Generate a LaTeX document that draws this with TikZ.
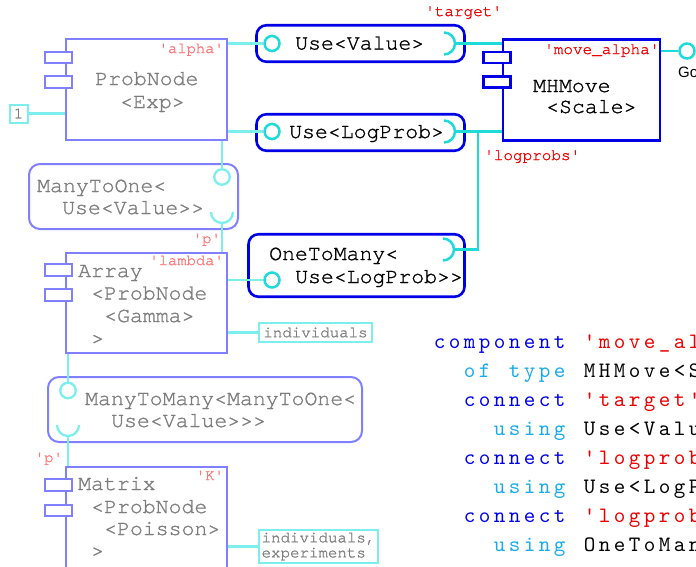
\documentclass[tikz,border=0pt]{standalone}
\usepackage{fontspec}
\newfontfamily\dfont[Ligatures=TeXOff,FakeBold=1.2]{texgyrecursor-regular.otf}
\newfontfamily\gofont{Liberation Sans}
\newfontfamily\cfont[Ligatures=TeXOff]{lmmono10-regular.otf}
\definecolor{fblue}{RGB}{128,128,255}
\definecolor{sblue}{RGB}{0,0,230}
\definecolor{scyan}{RGB}{30,218,218}
\definecolor{fcyan}{RGB}{125,238,238}
\definecolor{fgray}{RGB}{125,125,125}
\definecolor{fred}{RGB}{255,120,120}
\definecolor{sred}{RGB}{240,0,0}
\definecolor{kwblue}{RGB}{0,0,230}
\definecolor{kwlight}{RGB}{25,170,235}
\definecolor{cred}{RGB}{235,0,0}
\newcommand\fixw[1]{\fixwA#1\relax}
\def\fixwA#1{\ifx\relax#1\else\makebox[15pt][c]{#1}\expandafter\fixwA\fi}
\begin{document}
\begin{tikzpicture}[x=1pt,y=-1pt,
  fcomp/.style={draw=fblue,line width=2pt,inner sep=0},
  scomp/.style={draw=sblue,line width=2.6pt,inner sep=0},
  fround/.style={fcomp,rounded corners=11pt},
  sround/.style={scomp,rounded corners=10pt},
  ftab/.style={draw=fblue,line width=2pt,fill=white,minimum width=27pt,minimum height=11.5pt,inner sep=0},
  stab/.style={draw=sblue,line width=2.6pt,fill=white,minimum width=27pt,minimum height=11pt,inner sep=0},
  fline/.style={draw=fcyan,line width=2.3pt},
  sline/.style={draw=scyan,line width=2.5pt},
  fball/.style={circle,draw=fcyan,line width=2.3pt,minimum size=15.5pt,inner sep=0},
  sball/.style={circle,draw=scyan,line width=2.5pt,minimum size=15pt,inner sep=0},
  ftag/.style={draw=fcyan,line width=2pt,text=fgray,font=\dfont\fontsize{15.8}{15}\selectfont},
  btext/.style={anchor=base west,inner sep=0,font=\dfont\fontsize{21.5}{23}\selectfont},
  ftxt/.style={btext,text=fgray},
  stxt/.style={btext,text=black},
  flab/.style={inner sep=0,anchor=base east,font=\dfont\fontsize{15.5}{16}\selectfont,text=fred},
  slab/.style={inner sep=0,anchor=base west,font=\dfont\fontsize{16}{16}\selectfont,text=sred},
  code/.style={anchor=base west,inner sep=0,font=\cfont\fontsize{22}{29}\selectfont}
]
\useasboundingbox (0,0) rectangle (696,566);
\begin{scope}
\clip (0,0) rectangle (696,566);
% ---- boxes ----
\node[fcomp,minimum width=161pt,minimum height=101pt] (probnode) at (146.5,89.5) {};
\node[scomp,minimum width=157pt,minimum height=101pt] (mhmove) at (581.5,90) {};
\node[sround,minimum width=208pt,minimum height=36.5pt] (usev) at (360.5,43.5) {};
\node[sround,minimum width=208pt,minimum height=36.5pt] (usel) at (360.5,132.5) {};
\node[fround,minimum width=209pt,minimum height=65pt] (mto) at (133.5,196.5) {};
\node[fcomp,minimum width=161pt,minimum height=100pt] (array) at (146.5,303) {};
\node[sround,minimum width=216pt,minimum height=62.5pt] (otm) at (356.5,265.5) {};
\node[fround,minimum width=314pt,minimum height=65pt] (mtm) at (205,409.5) {};
\node[fcomp,minimum width=161pt,minimum height=113pt] (matrix) at (146.5,523.5) {};
% ---- tabs ----
\node[ftab] (pt1) at (58.5,57.5) {};
\node[ftab] (pt2) at (58.5,82) {};
\node[stab] (mt1) at (497,57.5) {};
\node[stab] (mt2) at (497,82) {};
\node[ftab] (at1) at (58.5,270) {};
\node[ftab] (at2) at (58.5,295) {};
\node[ftab] (xt1) at (58.5,485) {};
\node[ftab] (xt2) at (58.5,510.5) {};
% ---- tags ----
\node[ftag,minimum width=18pt,minimum height=18pt,inner sep=0] (one) at (18.5,113.5) {1};
\node[ftag,minimum width=113pt,minimum height=19pt,inner sep=0] (ind) at (315.5,332.5) {individuals};
\node[ftag,align=left,inner xsep=3pt,inner ysep=2.5pt] (ie) at (318.5,546.5) {individuals,\\experiments};
% ---- balls ----
\node[sball] (uvc) at (272,43.5) {};
\node[sball] (ulc) at (272,131.5) {};
\node[sball] (otmc) at (272,280) {};
\node[fball] (mtoc) at (222,177) {};
\node[fball] (mtmc) at (68,390.5) {};
\node[sball] (goc) at (687,51) {};
% ---- sockets ----
\draw[sline] (444,32.5) arc[start angle=90,end angle=-90,radius=11pt] coordinate[pos=0.5] (uvs);
\draw[sline] (444,120.5) arc[start angle=90,end angle=-90,radius=11pt] coordinate[pos=0.5] (uls);
\draw[sline] (443,238.5) arc[start angle=90,end angle=-90,radius=11pt] coordinate[pos=0.5] (otms);
\draw[fline] (211,212) arc[start angle=180,end angle=360,radius=11pt] coordinate[pos=0.5] (mtos);
\draw[fline] (57,425) arc[start angle=180,end angle=360,radius=11pt] coordinate[pos=0.5] (mtms);
\coordinate (jn) at (478,131.5);
% ---- connectors ----
\draw[fline] (uvc.west -| probnode.east) -- (uvc.west);
\draw[fline] (ulc.west -| probnode.east) -- (ulc.west);
\draw[sline] (uvs) -- (uvs -| mhmove.west);
\draw[sline] (uls) -- (uls -| mhmove.west);
\draw[sline] (otms) -| (jn);
\draw[sline] (goc.west -| mhmove.east) -- (goc.west);
\draw[fline] (one.east) -- (one.east -| probnode.west);
\draw[fline] (mtoc.north |- probnode.south) -- (mtoc.north);
\draw[fline] (mtos) -- (mtos |- array.north);
\draw[fline] (otmc.west -| array.east) -- (otmc.west);
\draw[fline] (ind.west -| array.east) -- (ind.west);
\draw[fline] (mtmc.north |- array.south) -- (mtmc.north);
\draw[fline] (mtms) -- (mtms |- matrix.north);
\draw[fline] (ie.west -| matrix.east) -- (ie.west);
% ---- box texts ----
\node[ftxt] (t1) at (95,85) {ProbNode};
\node[ftxt] (t2) at (120,108) {<Exp>};
\node[stxt] (t3) at (533,92) {MHMove};
\node[stxt] (t4) at (546,113) {<Scale>};
\node[stxt] (t5) at (295,49.5) {Use<Value>};
\node[stxt] (t6) at (289,138) {Use<LogProb>};
\node[ftxt] (t7) at (37,192) {ManyToOne<};
\node[ftxt] (t8) at (62,214) {Use<Value>>};
\node[ftxt] (t9) at (78,277) {Array};
\node[ftxt] (t10) at (91,299.5) {<ProbNode};
\node[ftxt] (t11) at (104,322) {<Gamma>};
\node[ftxt] (t12) at (91,344.5) {>};
\node[stxt] (t13) at (269,260) {OneToMany<};
\node[stxt] (t14) at (295,283) {Use<LogProb>>};
\node[ftxt] (t15) at (85,405) {ManyToMany<ManyToOne<};
\node[ftxt] (t16) at (111,427) {Use<Value>>>};
\node[ftxt] (t17) at (78,490) {Matrix};
\node[ftxt] (t18) at (91,513) {<ProbNode};
\node[ftxt] (t19) at (104,535) {<Poisson>};
\node[ftxt] (t20) at (91,557) {>};
% ---- labels ----
\node[flab] (l1) at (224,53) {'alpha'};
\node[flab] (l2) at (221,243) {'p'};
\node[flab] (l3) at (224,265) {'lambda'};
\node[flab] (l4) at (63,462) {'p'};
\node[flab] (l5) at (224,480) {'K'};
\node[slab] (l6) at (544,54) {'move\_alpha'};
\node[slab] (l7) at (425,16) {'target'};
\node[slab] (l8) at (484,160) {'logprobs'};
\node[inner sep=0,anchor=base west,font=\gofont\fontsize{15}{15}\selectfont] (go) at (678,77) {Go};
% ---- code ----
\node[code] (c1) at (432,348) {\textcolor{kwblue}{\fixw{component}}\fixw{~}\textcolor{cred}{\fixw{'move\_al}}};
\node[code] (c2) at (462,377) {\textcolor{kwlight}{\fixw{of~type}}\fixw{~MHMove<S}};
\node[code] (c3) at (462,406) {\textcolor{kwblue}{\fixw{connect}}\fixw{~}\textcolor{cred}{\fixw{'target'}}};
\node[code] (c4) at (492,435) {\textcolor{kwlight}{\fixw{using}}\fixw{~Use<Valu}};
\node[code] (c5) at (462,464) {\textcolor{kwblue}{\fixw{connect}}\fixw{~}\textcolor{cred}{\fixw{'logprob}}};
\node[code] (c6) at (492,493) {\textcolor{kwlight}{\fixw{using}}\fixw{~Use<LogP}};
\node[code] (c7) at (462,522) {\textcolor{kwblue}{\fixw{connect}}\fixw{~}\textcolor{cred}{\fixw{'logprob}}};
\node[code] (c8) at (492,551) {\textcolor{kwlight}{\fixw{using}}\fixw{~OneToMan}};
\end{scope}
\end{tikzpicture}
\end{document}
